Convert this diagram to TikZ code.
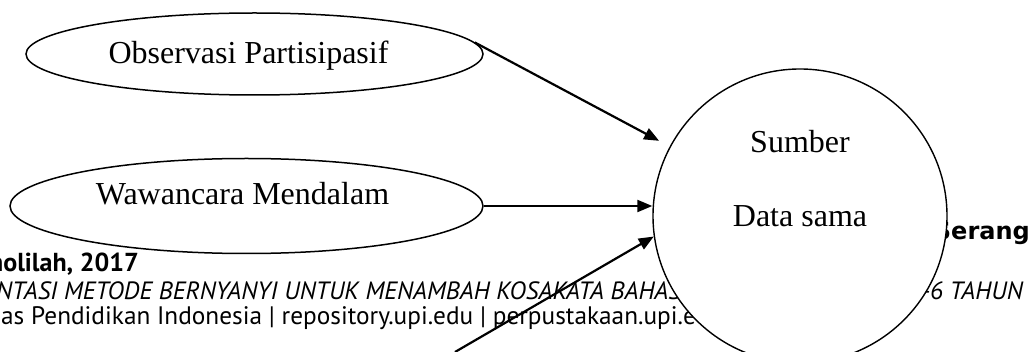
\documentclass[tikz,border=0pt]{standalone}
\usepackage{fontspec}
\setmainfont{Liberation Serif}
\newfontfamily\ftr{PT Sans}
\newfontfamily\ftrb{DejaVu Sans}
\usetikzlibrary{arrows.meta,shapes.geometric}

\begin{document}
\begin{tikzpicture}[x=1pt,y=-1pt, >={Triangle[length=15pt,width=12pt]},
   lbl/.style={anchor=base, inner sep=0, font=\fontsize{32}{38}\selectfont},
   ftx/.style={inner sep=0, font=\ftr\fontsize{25.3}{30}\selectfont}]

\useasboundingbox (0,0) rectangle (1035,352);
\clip (0,0) rectangle (1035,352);
%
% page footer behind the figure
      \node [ftx, anchor=base east, font=\ftr\fontsize{26}{30}\selectfont\bfseries] at (139,272) (f1) {holilah, 2017};
      \node [ftx, anchor=base west, font=\ftr\fontsize{25}{30}\selectfont\itshape] at (-4,300) (f2) {NTASI METODE BERNYANYI UNTUK MENAMBAH KOSAKATA BAHAS};
      \node [ftx, anchor=base east, font=\ftr\fontsize{25}{30}\selectfont\itshape] at (1023,300) (f3) {-6 TAHUN};
      \node [ftx, anchor=base west] at (1,324) (f4) {as Pendidikan Indonesia | repository.upi.edu | perpustakaan.upi.e};
      \node [ftx, anchor=base east, font=\ftrb\fontsize{24}{28}\selectfont\bfseries] at (1030,240) (f5) {Serang};
%
         \node [circle, draw, fill=white, line width=1.4, minimum size=294, inner sep=0] at (800,216) (s) {};
      \node [ellipse, draw, line width=1.5, minimum width=457, minimum height=82, inner sep=0] at (254.5,54) (o) {};
      \node [ellipse, draw, line width=1.5, minimum width=473, minimum height=95, inner sep=0] at (246.5,206) (w) {};
%
         \node [lbl] at (248.5,63.5) (ot) {Observasi Partisipasif};
         \node [lbl] at (242.5,205) (wt) {Wawancara Mendalam};
         \node [lbl] at (800,153) (st) {Sumber};
         \node [lbl] at (800,227) (dt) {Data sama};
%
   \coordinate (q) at (455,352);
\draw[->, line width=2.2, shorten >=12pt] (o.3) -- (s);
\draw[->, line width=2.2] (w.east) -- (w.east -| s.west);
\draw[->, line width=2.2] (q) -- (s.188);
%
\end{tikzpicture}
\end{document}
